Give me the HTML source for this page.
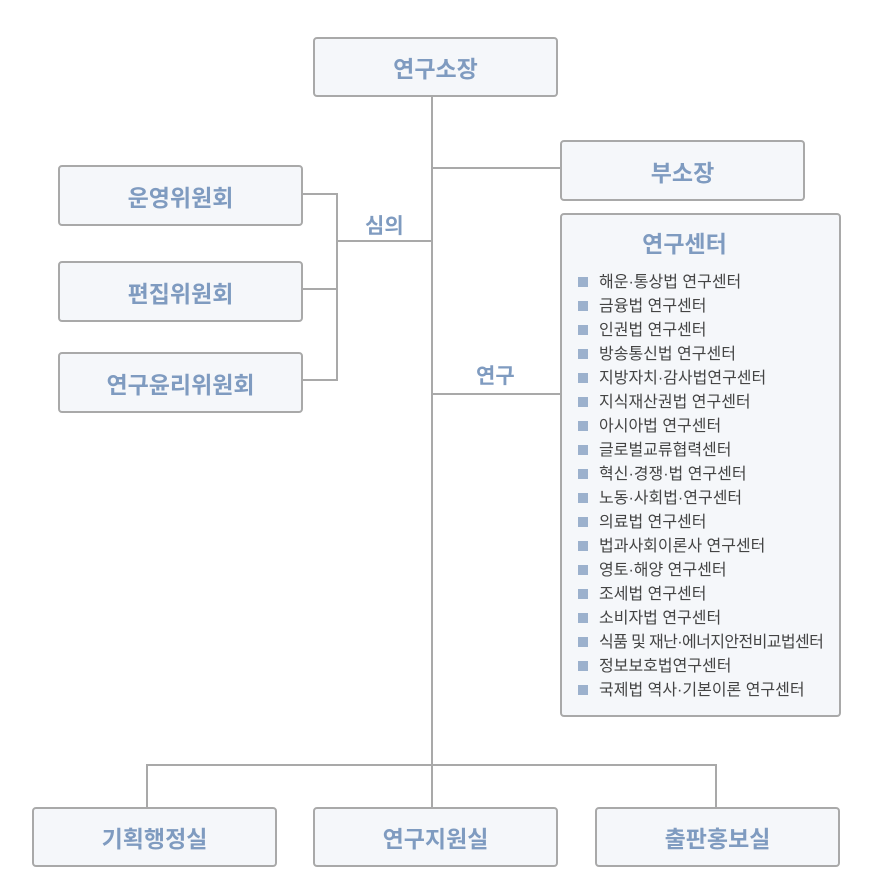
<!DOCTYPE html>
<html><head><meta charset="utf-8"><style>
body{margin:0;width:880px;height:879px;background:#fff;position:relative;font-family:"Liberation Sans","Noto Sans CJK KR",sans-serif;overflow:hidden}
.b{position:absolute;box-sizing:border-box;border:2px solid #a9a9a9;border-radius:4px;background:#f5f7fa;color:#7f9bc0;font-weight:bold;font-size:23px;display:flex;align-items:center;justify-content:center}
.l{position:absolute;background:#a9a9a9}
.t{position:absolute;color:#7f9bc0;font-weight:bold;font-size:21px}
ul{list-style:none;margin:0;padding:0;position:absolute;left:16px;top:57px}
li{font-size:16px;font-weight:normal;color:#444;height:24px;line-height:21px;white-space:nowrap}
li:before{content:"";display:inline-block;width:10px;height:10px;background:#9cb1cd;margin-right:11px;vertical-align:0px}
</style></head><body>
<div class="l" style="left:431px;top:96px;width:2px;height:670px"></div>
<div class="l" style="left:432px;top:167px;width:128px;height:2px"></div>
<div class="l" style="left:336px;top:240px;width:96px;height:2px"></div>
<div class="l" style="left:336px;top:193px;width:2px;height:188px"></div>
<div class="l" style="left:302px;top:193px;width:35px;height:2px"></div>
<div class="l" style="left:302px;top:288px;width:35px;height:2px"></div>
<div class="l" style="left:302px;top:379px;width:35px;height:2px"></div>
<div class="l" style="left:432px;top:393px;width:128px;height:2px"></div>
<div class="l" style="left:146px;top:764px;width:571px;height:2px"></div>
<div class="l" style="left:146px;top:764px;width:2px;height:44px"></div>
<div class="l" style="left:715px;top:764px;width:2px;height:44px"></div>
<div class="l" style="left:431px;top:764px;width:2px;height:44px"></div>
<div class="t" style="left:365px;top:210px">심의</div>
<div class="t" style="left:476px;top:360px">연구</div>
<div class="b" style="left:313px;top:37px;width:245px;height:60px">연구소장</div>
<div class="b" style="left:560px;top:140px;width:245px;height:61px">부소장</div>
<div class="b" style="left:58px;top:165px;width:245px;height:61px">운영위원회</div>
<div class="b" style="left:58px;top:261px;width:245px;height:61px">편집위원회</div>
<div class="b" style="left:58px;top:352px;width:245px;height:61px">연구윤리위원회</div>
<div class="b" style="left:560px;top:213px;width:281px;height:504px;display:block">
<div style="position:absolute;left:0;width:245px;top:10px;text-align:center">연구센터</div>
<ul>
<li>해운·통상법 연구센터</li><li>금융법 연구센터</li><li>인권법 연구센터</li><li>방송통신법 연구센터</li><li>지방자치·감사법연구센터</li><li>지식재산권법 연구센터</li><li>아시아법 연구센터</li><li>글로벌교류협력센터</li><li>혁신·경쟁·법 연구센터</li><li>노동·사회법·연구센터</li><li>의료법 연구센터</li><li>법과사회이론사 연구센터</li><li>영토·해양 연구센터</li><li>조세법 연구센터</li><li>소비자법 연구센터</li><li style="letter-spacing:-0.6px">식품 및 재난·에너지안전비교법센터</li><li>정보보호법연구센터</li><li>국제법 역사·기본이론 연구센터</li>
</ul></div>
<div class="b" style="left:32px;top:807px;width:245px;height:60px">기획행정실</div>
<div class="b" style="left:313px;top:807px;width:245px;height:60px">연구지원실</div>
<div class="b" style="left:595px;top:807px;width:245px;height:60px">출판홍보실</div>
</body></html>
